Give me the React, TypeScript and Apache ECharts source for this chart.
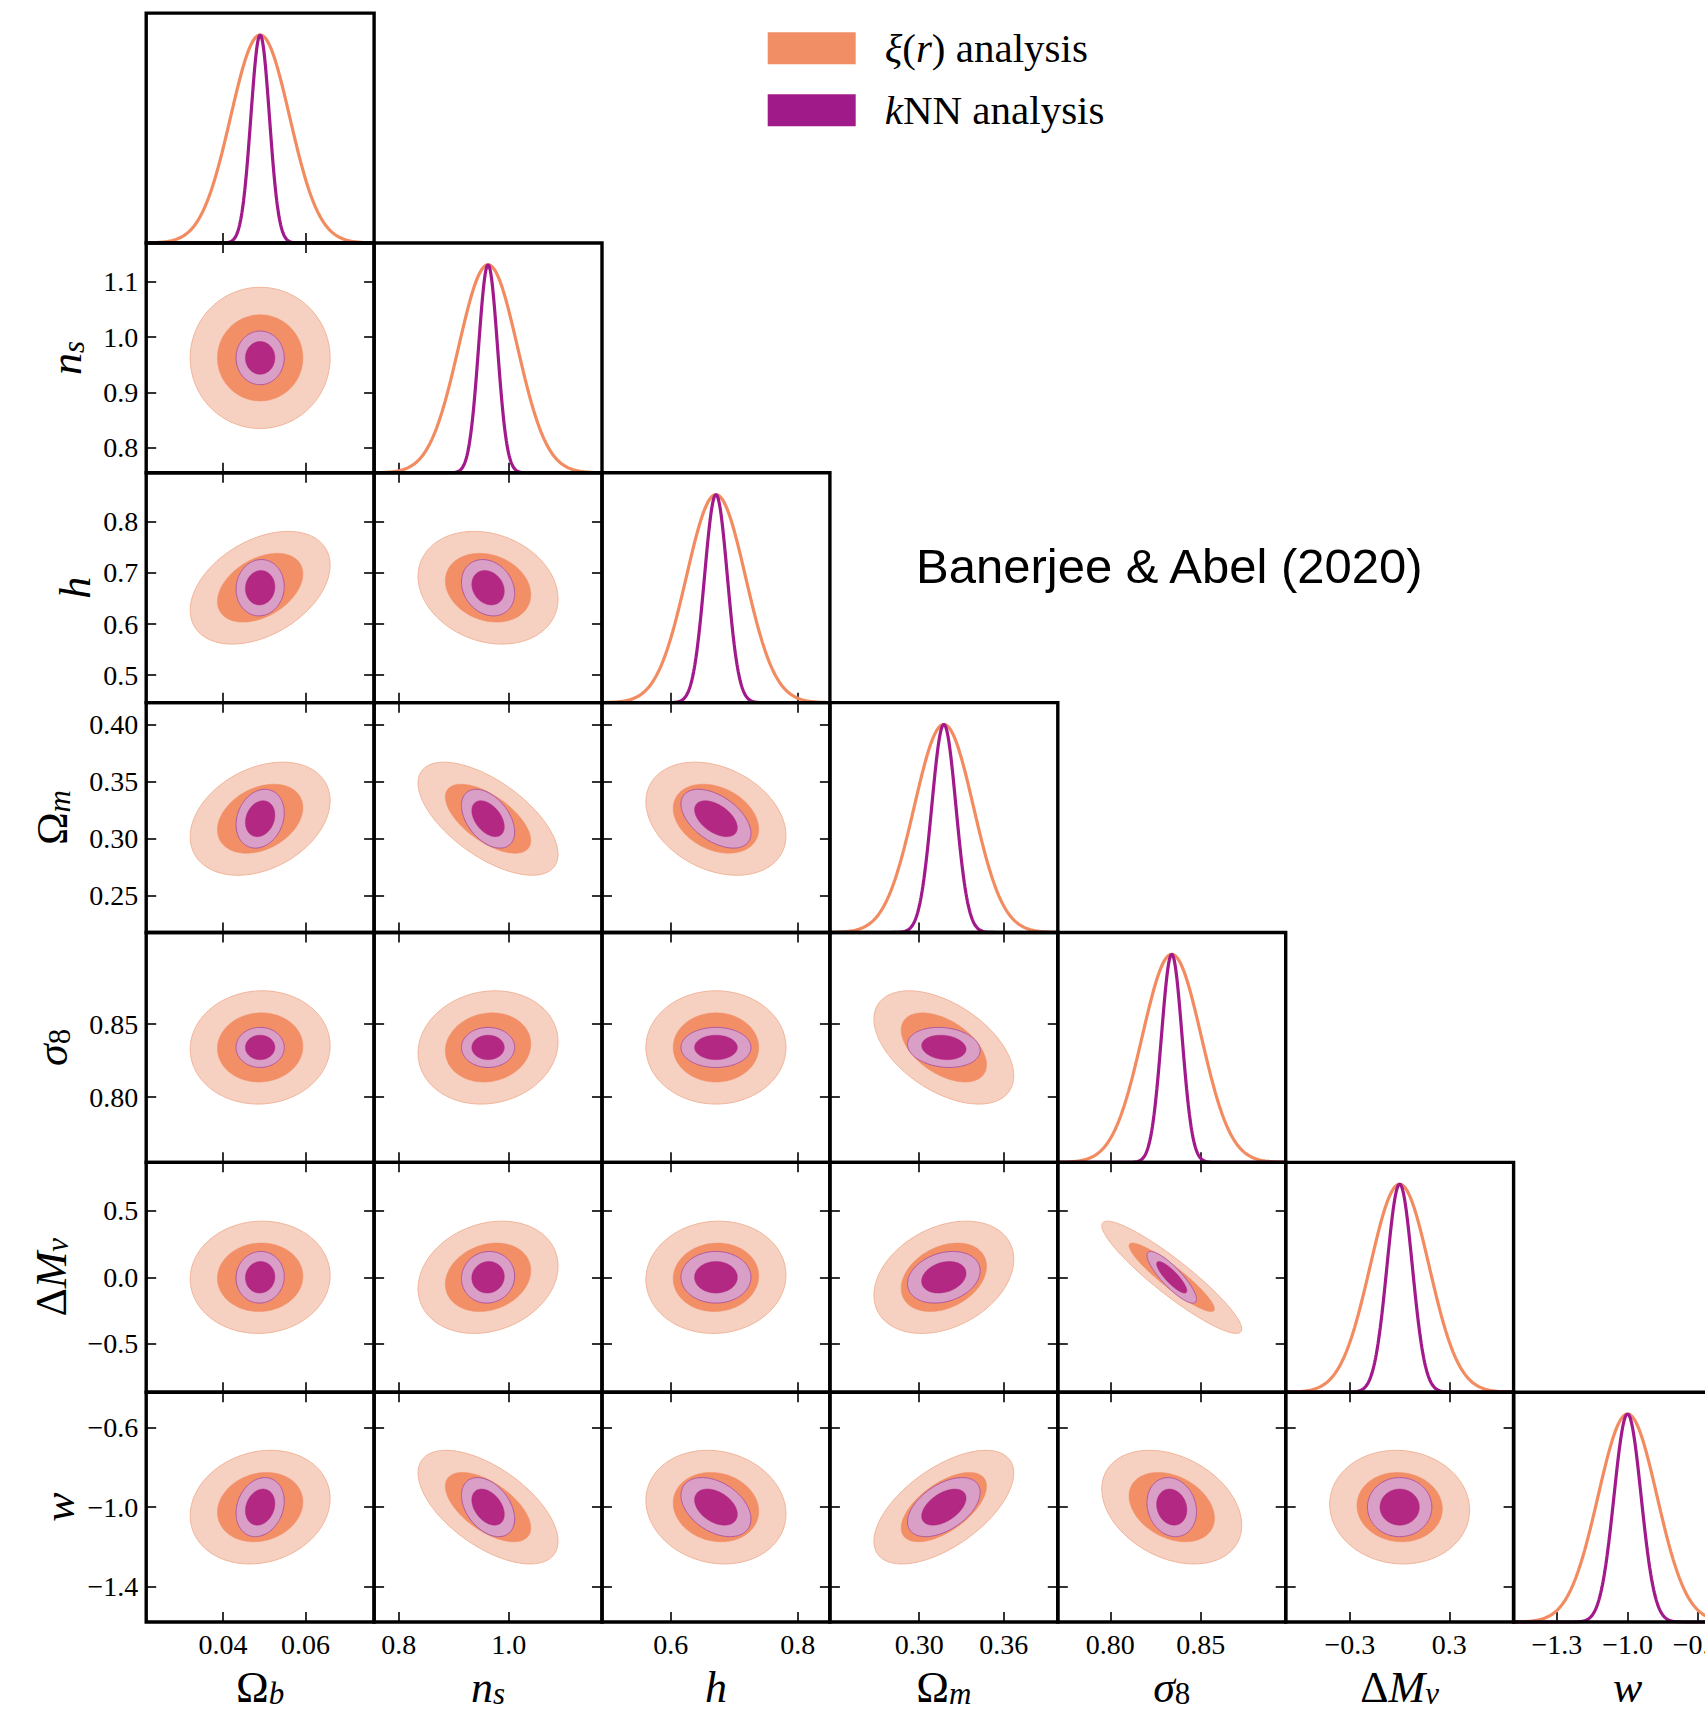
import React, { useEffect, useRef } from "react";
import * as echarts from "echarts";

// ---------------- data ----------------
const PARAM_TITLES = [
  "{u|Ω}{si|b}",
  "{i|n}{si|s}",
  "{i|h}",
  "{u|Ω}{si|m}",
  "{i|σ}{su|8}",
  "{u|Δ}{i|M}{si|ν}",
  "{i|w}",
];
const PARAM_MEANS = [0.049, 0.9624, 0.6711, 0.3175, 0.834, 0.0, -1.0];

const X_MIN = [0.0214, 0.7549, 0.4916, 0.2365, 0.771, -0.688, -1.484];
const X_MAX = [0.0766, 1.1699, 0.8506, 0.3985, 0.897, 0.688, -0.516];
const Y_MIN = [0, 0.7549, 0.4461, 0.2175, 0.7555, -0.865, -1.578];
const Y_MAX = [0, 1.1699, 0.8961, 0.4195, 0.9125, 0.865, -0.422];

const X_TICKS = [
  [0.04, 0.06],
  [0.8, 1.0],
  [0.6, 0.8],
  [0.3, 0.36],
  [0.8, 0.85],
  [-0.3, 0.3],
  [-1.3, -1.0, -0.7],
];
const Y_TICKS = [
  [],
  [0.8, 0.9, 1.0, 1.1],
  [0.5, 0.6, 0.7, 0.8],
  [0.25, 0.3, 0.35, 0.4],
  [0.8, 0.85],
  [-0.5, 0.0, 0.5],
  [-1.4, -1.0, -0.6],
];
const TICK_DECIMALS = [2, 1, 1, 2, 2, 1, 1];

// 1D marginal widths (sigma) for each analysis
const SIGMA_1D_XI = [0.00715, 0.0535, 0.0465, 0.021, 0.0163, 0.178, 0.125];
const SIGMA_1D_KNN = [0.00225, 0.0172, 0.018, 0.0086, 0.0057, 0.0765, 0.0575];
// 2D contour widths (sigma) for each analysis
const SIGMA_2D_XI = [0.00682, 0.0513, 0.0444, 0.02, 0.01557, 0.17, 0.115];
const SIGMA_2D_KNN = [0.00235, 0.0195, 0.0222, 0.0104, 0.00551, 0.0782, 0.0598];
// correlation coefficients, row i (y parameter), column j (x parameter)
const RHO_XI = [
  [],
  [0.0],
  [0.4, -0.2],
  [0.32, -0.63, -0.3],
  [0.03, 0.1, 0.0, -0.5],
  [0.03, 0.2, 0.04, 0.32, -0.92],
  [0.15, -0.6, -0.12, 0.6, -0.32, -0.05],
];
const RHO_KNN = [
  [],
  [0.0],
  [0.05, -0.2],
  [0.2, -0.45, -0.5],
  [0.0, 0.0, 0.0, -0.15],
  [0.03, 0.05, 0.0, 0.25, -0.85],
  [0.2, -0.4, -0.4, 0.5, -0.15, 0.0],
];
// contour levels (delta chi^2): outer 95%, inner 68%
const DELTA_CHI2 = [6.17, 2.3];
const PEAK_MAX = 1.105;

const SERIES_XI = "ξ(r) analysis";
const SERIES_KNN = "kNN analysis";

// ---------------- styles / layout ----------------
const SERIF = "Liberation Serif";
const ORIGIN_X = 146.2;
const ORIGIN_Y = 13.1;
const CELL_W = 227.9;
const CELL_H = 229.85;

const ELLIPSE_STYLES = [
  { fill: "#f6d1c1", stroke: "#f1b398", lineWidth: 1 },
  { fill: "#f28f67", stroke: "#f28f67", lineWidth: 0.5 },
  { fill: "#da9fc6", stroke: "#b0569f", lineWidth: 1 },
  { fill: "#b22882", stroke: "#b22882", lineWidth: 0.5 },
];
const LINE_XI = "#f38b60";
const LINE_KNN = "#a2198c";

const TITLE_RICH = {
  i: { fontFamily: SERIF, fontStyle: "italic", fontSize: 44, lineHeight: 44, color: "#000" },
  u: { fontFamily: SERIF, fontSize: 44, lineHeight: 44, color: "#000" },
  si: { fontFamily: SERIF, fontStyle: "italic", fontSize: 31, lineHeight: 18, verticalAlign: "bottom", color: "#000" },
  su: { fontFamily: SERIF, fontSize: 31, lineHeight: 18, verticalAlign: "bottom", color: "#000" },
};

const LABEL_STYLE = { fontFamily: SERIF, fontSize: 28, color: "#000" };

function fmtTick(v: number, dec: number) {
  const s = Math.abs(v).toFixed(dec);
  return v < -1e-9 ? "\u2212" + s : s;
}

function measure(text: string, font: string) {
  const ctx = document.createElement("canvas").getContext("2d");
  if (!ctx) return text.length * 14;
  ctx.font = font;
  return ctx.measureText(text).width;
}

function renderEllipse(params: any, api: any) {
  const mx = api.value(0);
  const my = api.value(1);
  const sx = api.value(2);
  const sy = api.value(3);
  const rho = api.value(4);
  const k = api.value(5);
  const st = ELLIPSE_STYLES[api.value(6)];
  const c = Math.sqrt(Math.max(0, 1 - rho * rho));
  const pts: number[][] = [];
  const n = 160;
  for (let t = 0; t < n; t++) {
    const a = (2 * Math.PI * t) / n;
    const x = mx + k * sx * Math.cos(a);
    const y = my + k * sy * (rho * Math.cos(a) + c * Math.sin(a));
    pts.push(api.coord([x, y]));
  }
  return {
    type: "polygon",
    shape: { points: pts },
    style: { fill: st.fill, stroke: st.stroke, lineWidth: st.lineWidth },
  };
}

function buildOption() {
  const N = PARAM_MEANS.length;
  const grids: any[] = [];
  const xAxes: any[] = [];
  const yAxes: any[] = [];
  const series2D: any[] = [];
  const series1D: any[] = [];

  const tick = (vals: number[]) => ({
    show: true,
    inside: true,
    length: 10,
    lineStyle: { color: "#000", width: 1.6 },
    customValues: vals,
  });
  const noLine = { show: false, onZero: false };

  for (let i = 0; i < N; i++) {
    for (let j = 0; j <= i; j++) {
      const g = grids.length;
      grids.push({
        left: ORIGIN_X + j * CELL_W,
        top: ORIGIN_Y + i * CELL_H,
        width: CELL_W,
        height: CELL_H,
        show: true,
        borderColor: "#000",
        borderWidth: 3.4,
        backgroundColor: "transparent",
        z: 10,
      });
      const isBottom = i === N - 1;
      const xb = xAxes.length;
      xAxes.push({
        gridIndex: g,
        type: "value",
        position: "bottom",
        min: X_MIN[j],
        max: X_MAX[j],
        axisLine: noLine,
        splitLine: { show: false },
        axisTick: tick(X_TICKS[j]),
        axisLabel: {
          show: isBottom,
          customValues: X_TICKS[j],
          formatter: (v: number) => fmtTick(v, TICK_DECIMALS[j]),
          ...LABEL_STYLE,
          margin: 8,
        },
        name: isBottom ? PARAM_TITLES[j] : "",
        nameLocation: "middle",
        nameGap: 43,
        nameTextStyle: { rich: TITLE_RICH },
      });

      if (i === j) {
        const yl = yAxes.length;
        yAxes.push({ gridIndex: g, type: "value", min: 0, max: PEAK_MAX, show: false, axisLine: noLine });
        const mu = PARAM_MEANS[j];
        const nPts = 400;
        const curve = (s: number) => {
          const d: number[][] = [];
          for (let k = 0; k <= nPts; k++) {
            const x = X_MIN[j] + ((X_MAX[j] - X_MIN[j]) * k) / nPts;
            d.push([x, Math.exp(-0.5 * ((x - mu) / s) ** 2)]);
          }
          return d;
        };
        series1D.push({
          type: "line",
          name: SERIES_XI,
          xAxisIndex: xb,
          yAxisIndex: yl,
          data: curve(SIGMA_1D_XI[j]),
          showSymbol: false,
          symbol: "none",
          silent: true,
          lineStyle: { color: LINE_XI, width: 3.2 },
          itemStyle: { color: LINE_XI },
          z: 3,
        });
        series1D.push({
          type: "line",
          name: SERIES_KNN,
          xAxisIndex: xb,
          yAxisIndex: yl,
          data: curve(SIGMA_1D_KNN[j]),
          showSymbol: false,
          symbol: "none",
          silent: true,
          lineStyle: { color: LINE_KNN, width: 3.2 },
          itemStyle: { color: LINE_KNN },
          z: 4,
        });
      } else {
        xAxes.push({
          gridIndex: g,
          type: "value",
          position: "top",
          min: X_MIN[j],
          max: X_MAX[j],
          axisLine: noLine,
          splitLine: { show: false },
          axisTick: tick(X_TICKS[j]),
          axisLabel: { show: false },
        });
        const isLeft = j === 0;
        let nameGap = 60;
        if (isLeft) {
          const font = `28px "${SERIF}"`;
          const maxW = Math.max(
            ...Y_TICKS[i].map((v) => measure(fmtTick(v, TICK_DECIMALS[i]), font))
          );
          const hasSub = PARAM_TITLES[i].indexOf("{s") >= 0;
          nameGap = 8 + maxW + 13 + (hasSub ? 1.4 : -7.1);
        }
        const yl = yAxes.length;
        yAxes.push({
          gridIndex: g,
          type: "value",
          position: "left",
          min: Y_MIN[i],
          max: Y_MAX[i],
          axisLine: noLine,
          splitLine: { show: false },
          axisTick: tick(Y_TICKS[i]),
          axisLabel: {
            show: isLeft,
            customValues: Y_TICKS[i],
            formatter: (v: number) => fmtTick(v, TICK_DECIMALS[i]),
            ...LABEL_STYLE,
            margin: 8,
          },
          name: isLeft ? PARAM_TITLES[i] : "",
          nameLocation: "middle",
          nameRotate: 90,
          nameGap,
          nameTextStyle: { rich: TITLE_RICH },
        });
        yAxes.push({
          gridIndex: g,
          type: "value",
          position: "right",
          min: Y_MIN[i],
          max: Y_MAX[i],
          axisLine: noLine,
          splitLine: { show: false },
          axisTick: tick(Y_TICKS[i]),
          axisLabel: { show: false },
        });
        const mx = PARAM_MEANS[j];
        const my = PARAM_MEANS[i];
        const rx = RHO_XI[i][j];
        const rk = RHO_KNN[i][j];
        series2D.push({
          type: "custom",
          name: SERIES_XI,
          coordinateSystem: "cartesian2d",
          xAxisIndex: xb,
          yAxisIndex: yl,
          encode: { x: 0, y: 1 },
          silent: true,
          clip: true,
          z: 2,
          renderItem: renderEllipse,
          data: DELTA_CHI2.map((d, idx) => [
            mx, my, SIGMA_2D_XI[j], SIGMA_2D_XI[i], rx, Math.sqrt(d), idx,
          ]),
        });
        series2D.push({
          type: "custom",
          name: SERIES_KNN,
          coordinateSystem: "cartesian2d",
          xAxisIndex: xb,
          yAxisIndex: yl,
          encode: { x: 0, y: 1 },
          silent: true,
          clip: true,
          z: 2,
          renderItem: renderEllipse,
          data: DELTA_CHI2.map((d, idx) => [
            mx, my, SIGMA_2D_KNN[j], SIGMA_2D_KNN[i], rk, Math.sqrt(d), 2 + idx,
          ]),
        });
      }
    }
  }

  return {
    animation: false,
    backgroundColor: "#fff",
    textStyle: { fontFamily: SERIF },
    grid: grids,
    xAxis: xAxes,
    yAxis: yAxes,
    legend: {
      orient: "vertical",
      left: 767.7,
      top: 27.8,
      padding: 0,
      itemWidth: 88,
      itemHeight: 32,
      itemGap: 21,
      icon: "rect",
      selectedMode: false,
      data: [
        { name: SERIES_XI, itemStyle: { color: "#f28e66", borderWidth: 0 } },
        { name: SERIES_KNN, itemStyle: { color: "#a01a8a", borderWidth: 0 } },
      ],
      formatter: (name: string) =>
        name === SERIES_XI
          ? "{g| }{i|ξ}{n|(}{i|r}{n|) analysis}"
          : "{g| }{i|k}{n|NN analysis}",
      textStyle: {
        color: "#000",
        rich: {
          g: { width: 24, lineHeight: 32 },
          i: { fontFamily: SERIF, fontStyle: "italic", fontSize: 41, lineHeight: 32, color: "#000" },
          n: { fontFamily: SERIF, fontSize: 41, lineHeight: 32, color: "#000" },
        },
      },
    },
    graphic: [
      {
        type: "text",
        left: 916,
        top: 541,
        style: {
          text: "Banerjee & Abel (2020)",
          fontFamily: "Liberation Sans",
          fontSize: 49,
          fill: "#000",
        },
      },
    ],
    series: [...series2D, ...series1D],
  };
}

export default function App() {
  const ref = useRef<HTMLDivElement>(null);
  useEffect(() => {
    document.body.style.margin = "0";
    document.body.style.overflow = "hidden";
    if (!ref.current) return;
    const chart = echarts.init(ref.current, null, { renderer: "svg" });
    chart.setOption(buildOption() as any);
    return () => chart.dispose();
  }, []);
  return (
    <div style={{ width: 1705, height: 1713, overflow: "hidden", position: "relative" }}>
      <div ref={ref} style={{ width: 1760, height: 1713 }} />
    </div>
  );
}
